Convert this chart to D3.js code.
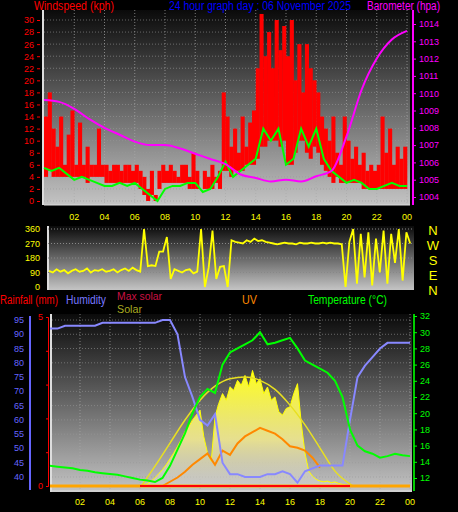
<!DOCTYPE html>
<html><head><meta charset="utf-8">
<script src="https://cdn.jsdelivr.net/npm/d3@7"></script>
<style>body{margin:0;background:#000}svg{display:block}text{font-family:"Liberation Sans",Arial,sans-serif}</style>
</head><body><svg id="c" width="458" height="512"></svg>
<script>
// ---------- DATA ----------
const hourTicks = [2,4,6,8,10,12,14,16,18,20,22,24];
const hourLabels = ["02","04","06","08","10","12","14","16","18","20","22","00"];
const windTicks = [0,2,4,6,8,10,12,14,16,18,20,22,24,26,28,30];
const baroTicks = [1004,1005,1006,1007,1008,1009,1010,1011,1012,1013,1014];
const dirTicks = [0,90,180,270,360];
const dirLetters = ["N","W","S","E","N"];
const humTicks = [40,45,50,55,60,65,70,75,80,85,90,95];
const tempTicks = [12,14,16,18,20,22,24,26,28,30,32];
// wind gust every 15 min
const windGust = [14,18,12,9,14,6,11,15, 6,13,6,9,6,6,12,6, 6,5,6,6,5,6,6,5, 6,5,4,2,5,1,5,6,
  5,6,5,4,6,6,4,8, 5,0,5,4,6,4,5,18, 14,9,12,8,14,9,13,15, 22,31,24,28,22,30,25,29,
  24,30,20,26,18,26,22,20, 18,14,12,10,14,8,6,14, 10,7,9,6,8,5,6,5, 6,14,8,12,6,9,7,9];
// wind lull (bottom of red bars) every 15 min
const windLull = [4,5,4,4,4,4,4,4, 4,4,4,3,4,4,4,4, 3,3,3,3,3,3,3,3, 3,2,1,0,1,0,2,3,
  3,3,3,3,3,3,2,2, 2,0,2,2,2,3,2,5, 5,4,5,5,5,6,6,6, 7,9,9,10,10,10,9,10,
  6,6,8,10,10,8,7,9, 8,6,5,4,3,4,3,3, 3,3,3,3,2,2,2,2, 2,2,2,2,2,2,2,2];
// average wind every 30 min
const windAvg = [5.5,5,5.5,4.5, 3.5,4,3.5,3, 2.5,2.5,3,2.5, 3,2,1,0, 2,2.5,2.5,3, 3,1.5,2,4,
  6.5,4,5,6, 7,12,10,12, 6,7,12,9, 12,7,5,4, 3,3.5,3,2, 2,2.5,3,2.5, 2.5];
// barometer hourly
const baro = [1009.6,1009.5,1009.1,1008.5,1008,1007.6,1007.2,1007,1007,1006.8,1006.5,1006.2,1005.9,
  1005.3,1005.1,1004.9,1005,1004.9,1005.2,1005.5,1007.5,1010.2,1012,1013.1,1013.6];
// wind direction every 15 min
const windDir = [100,90,110,95,105,85,100,110, 95,100,115,90,105,100,110,95, 100,110,90,105,115,100,120,105,
  95,360,130,135,130,220,220,310, 50,110,100,90,105,110,85,95, 360,0,120,350,50,125,130,0,
  290,280,275,270,290,280,300,285, 290,280,275,270,265,270,275,270, 270,265,275,270,270,275,270,270,
  275,270,275,270,270,265,0,280, 360,20,330,60,340,10,300,90, 350,20,330,150,360,40,340,270];
// humidity every 30 min
const humidity = [92,92,93,93,93,93,93,94,94,94,94,94,94,94,94,95,95,90,75,68,60,58,62,45,
  41,41,40,40,40,41,41,42,41,38,42,43,44,44,44,44,60,75,79,82,85,87,87,87,87];
// temperature every 30 min
const temperature = [13.5,13.4,13.3,13.2,13,12.9,12.7,12.6,12.5,12.4,12.2,12,11.8,11.7,11.5,12,13.5,15.5,17.5,20,22,23,22.5,26,
  27.5,28,28.5,29,30,28.5,28.7,29,29.3,28,26.5,26,25.5,25,24,22,18,16,15.3,15,14.5,14.7,15,14.8,14.7];
// solar every 15 min from 06:00 to 20:00
const solarHours = d3.range(6,20.01,0.25);
const solar = [0,5,15,30,50,75,100,130,165,200,240,280,330,360,400,430,460,300,200,150,420,500,560,520,
  600,580,640,610,670,600,700,620,650,560,600,520,540,450,430,470,480,560,620,380,200,90,60,40,
  30,25,30,20,25,15,10,5,0];
// max solar
const maxSolarHours = [6.1,7,8,9,10,11,12,13,14,15,16,17,18,19,20.2];
const maxSolar = [0,120,260,400,520,605,650,660,640,585,490,370,230,90,0];
// UV every 30 min from 07:30 to 18:00
const uvHours = d3.range(7.5,18.01,0.5);
const uv = [0,0.3,0.6,1,1.5,1.9,2.3,1.5,2.5,2.2,3,3.5,3.8,4.1,3.9,3.7,3.3,2.8,2.7,2.5,2,1.3,0];

// ---------- DRAW ----------
const svg = d3.select("#c");
const defs = svg.append("defs");
function grad(id, stops){const g=defs.append("linearGradient").attr("id",id).attr("x1",0).attr("y1",0).attr("x2",0).attr("y2",1);
  stops.forEach(s=>g.append("stop").attr("offset",s[0]).attr("stop-color",s[1]).attr("stop-opacity",s[2]==null?1:s[2]));}
grad("bg",[[0,"#0a0a0a"],[1,"#c4c4c4"]]);
grad("sol",[[0,"#ffff20"],[0.6,"#f0e890",0.9],[1,"#d8d8d8",0.4]]);
function label(x,y,txt,col,len,size){return svg.append("text").attr("x",x).attr("y",y).attr("fill",col).attr("font-size",size||12)
  .attr("textLength",len).attr("lengthAdjust","spacingAndGlyphs").text(txt);}

const x1 = d3.scaleLinear().domain([0,24]).range([44,407]);
const x3 = d3.scaleLinear().domain([0,24]).range([50,410]);

// --- panel 1
const yW = d3.scaleLinear().domain([0,30]).range([201,20]);
const yB = d3.scaleLinear().domain([1004,1014]).range([197,24]);
svg.append("rect").attr("x",44).attr("y",10).attr("width",366).attr("height",195).attr("fill","url(#bg)");
svg.append("line").attr("x1",43).attr("x2",43).attr("y1",10).attr("y2",205).attr("stroke","#ddd").attr("stroke-width",2);
svg.append("line").attr("x1",44).attr("x2",410).attr("y1",205).attr("y2",205).attr("stroke","#ddd").attr("stroke-width",1);
const g1=svg.append("g");
windTicks.forEach(t=>g1.append("line").attr("x1",44).attr("x2",410).attr("y1",yW(t)).attr("y2",yW(t)).attr("stroke","#999").attr("stroke-dasharray","1,2").attr("opacity",0.6));
hourTicks.forEach(t=>g1.append("line").attr("x1",x1(t)).attr("x2",x1(t)).attr("y1",10).attr("y2",205).attr("stroke","#aaa").attr("stroke-dasharray","1,2").attr("opacity",0.7));
const bw=(x1(24)-x1(0))/96;
g1.selectAll(".g").data(windGust).join("rect").attr("x",(d,i)=>x1(i*0.25)).attr("width",bw+0.3)
  .attr("y",d=>yW(d)).attr("height",(d,i)=>Math.max(0,yW(Math.min(d,windLull[i]))-yW(d)))
  .attr("fill","#ff0000");
g1.append("path").datum(windAvg).attr("d",d3.line().x((d,i)=>x1(i*0.5)).y(d=>yW(d))).attr("fill","none").attr("stroke","#00ff00").attr("stroke-width",2);
g1.append("path").datum(baro).attr("d",d3.line().x((d,i)=>x1(i)).y(d=>yB(d)).curve(d3.curveMonotoneX)).attr("fill","none").attr("stroke","#ff00ff").attr("stroke-width",2);
const aW=svg.append("g").attr("transform","translate(40,0)").call(d3.axisLeft(yW).tickValues(windTicks).tickSize(3).tickFormat(d3.format("d")));
aW.selectAll("text").attr("fill","#ff0000").attr("font-size",9);aW.selectAll("line,path").attr("stroke","#ff0000");aW.select(".domain").remove();
svg.append("line").attr("x1",413).attr("x2",413).attr("y1",10).attr("y2",205).attr("stroke","#ff00ff").attr("stroke-width",2);
const aB=svg.append("g").attr("transform","translate(413,0)").call(d3.axisRight(yB).tickValues(baroTicks).tickSize(3).tickFormat(d3.format("d")));
aB.selectAll("text").attr("fill","#ff00ff").attr("font-size",9);aB.selectAll("line").attr("stroke","#ff00ff");aB.select(".domain").remove();
label(34,10,"Windspeed (kph)","#ff0000",80);
label(169,10,"24 hour graph day : 06 November 2025","#0000ff",182);
label(367,10,"Barometer (hpa)","#ff00ff",73);
hourTicks.forEach((t,i)=>svg.append("text").attr("x",x1(t)).attr("y",220).attr("text-anchor","middle").attr("fill","#ffff00").attr("font-size",9).text(hourLabels[i]));

// --- panel 2 direction
const yD = d3.scaleLinear().domain([0,360]).range([287,229]);
svg.append("rect").attr("x",48).attr("y",226).attr("width",366).attr("height",64).attr("fill","url(#bg)");
svg.append("line").attr("x1",48).attr("x2",48).attr("y1",226).attr("y2",290).attr("stroke","#ddd").attr("stroke-width",2);
[90,180,270,360].forEach(t=>svg.append("line").attr("x1",48).attr("x2",414).attr("y1",yD(t)).attr("y2",yD(t)).attr("stroke","#888").attr("stroke-dasharray","1,2"));
const x2 = d3.scaleLinear().domain([0,24]).range([49,414]);
svg.append("path").datum(windDir).attr("d",d3.line().x((d,i)=>x2(i*0.25)).y(d=>yD(d))).attr("fill","none").attr("stroke","#ffff00").attr("stroke-width",1.8);
dirTicks.forEach(t=>svg.append("text").attr("x",40).attr("y",yD(t)+3).attr("text-anchor","end").attr("fill","#ffff00").attr("font-size",9).text(t));
dirLetters.forEach((l,i)=>svg.append("text").attr("x",433).attr("y",235+i*15).attr("text-anchor","middle").attr("fill","#ffff00").attr("font-size",13).text(l));

// --- panel 3
label(0,304,"Rainfall (mm)","#ff0000",58);
label(66,304,"Humidity","#7777ff",40);
label(117,300,"Max solar","#cc1144",45,11);
label(117,313,"Solar","#aaaa22",25,11);
label(242,304,"UV","#ff8800",15);
label(308,304,"Temperature (°C)","#00ff00",79);

const yH = d3.scaleLinear().domain([40,95]).range([477,320]);
const yR = d3.scaleLinear().domain([0,5]).range([486,317]);
const yT = d3.scaleLinear().domain([12,32]).range([478,316]);
const yS = d3.scaleLinear().domain([0,1030]).range([486,316]);
const yU = d3.scaleLinear().domain([0,12]).range([486,316]);
svg.append("rect").attr("x",50).attr("y",314).attr("width",362).attr("height",178).attr("fill","url(#bg)");
svg.append("line").attr("x1",51).attr("x2",51).attr("y1",314).attr("y2",492).attr("stroke","#ddd").attr("stroke-width",2);
svg.append("line").attr("x1",50).attr("x2",412).attr("y1",491).attr("y2",491).attr("stroke","#ddd").attr("stroke-width",1);
humTicks.forEach(t=>svg.append("line").attr("x1",52).attr("x2",412).attr("y1",yH(t)).attr("y2",yH(t)).attr("stroke","#999").attr("stroke-dasharray","1,2").attr("opacity",0.6));
hourTicks.forEach(t=>svg.append("line").attr("x1",x3(t)).attr("x2",x3(t)).attr("y1",314).attr("y2",491).attr("stroke","#aaa").attr("stroke-dasharray","1,2").attr("opacity",0.7));
svg.append("path").datum(solar).attr("d",d3.area().x((d,i)=>x3(solarHours[i])).y0(486).y1(d=>yS(d))).attr("fill","url(#sol)");
svg.append("path").datum(solar).attr("d",d3.line().x((d,i)=>x3(solarHours[i])).y(d=>yS(d))).attr("fill","none").attr("stroke","#ffff00").attr("stroke-width",1);
svg.append("path").datum(maxSolar).attr("d",d3.line().x((d,i)=>x3(maxSolarHours[i])).y(d=>yS(d)).curve(d3.curveMonotoneX)).attr("fill","none").attr("stroke","#e8e020").attr("stroke-width",1.5);
svg.append("path").datum(uv).attr("d",d3.line().x((d,i)=>x3(uvHours[i])).y(d=>yU(d))).attr("fill","none").attr("stroke","#ff8800").attr("stroke-width",2);
svg.append("path").datum(humidity).attr("d",d3.line().x((d,i)=>x3(i*0.5)).y(d=>yH(d))).attr("fill","none").attr("stroke","#8888ff").attr("stroke-width",2);
svg.append("path").datum(temperature).attr("d",d3.line().x((d,i)=>x3(i*0.5)).y(d=>yT(d))).attr("fill","none").attr("stroke","#00ff00").attr("stroke-width",2);
svg.append("line").attr("x1",x3(0)).attr("x2",x3(24)).attr("y1",yR(0)).attr("y2",yR(0)).attr("stroke","#ffa500").attr("stroke-width",3);
svg.append("line").attr("x1",x3(6)).attr("x2",x3(20)).attr("y1",yR(0)).attr("y2",yR(0)).attr("stroke","#ff0000").attr("stroke-width",2);
// axes
svg.append("line").attr("x1",30).attr("x2",30).attr("y1",316).attr("y2",490).attr("stroke","#6666ff").attr("stroke-width",2);
humTicks.forEach(t=>svg.append("text").attr("x",24).attr("y",yH(t)+3).attr("text-anchor","end").attr("fill","#6666ff").attr("font-size",9).text(t));
const aR=svg.append("g").attr("transform","translate(48,0)").call(d3.axisLeft(yR).tickValues([0,1,2,3,4,5]).tickSize(2).tickFormat(d=>d===0||d===5?d:""));
aR.selectAll("text").attr("fill","#ff0000").attr("font-size",9);aR.selectAll("line,path").attr("stroke","#ff0000");
svg.append("line").attr("x1",414).attr("x2",414).attr("y1",314).attr("y2",491).attr("stroke","#00cc00").attr("stroke-width",2);
const aT=svg.append("g").attr("transform","translate(414,0)").call(d3.axisRight(yT).tickValues(tempTicks).tickSize(3).tickFormat(d3.format("d")));
aT.selectAll("text").attr("fill","#00ff00").attr("font-size",9);aT.selectAll("line").attr("stroke","#00ff00");aT.select(".domain").remove();
hourTicks.forEach((t,i)=>svg.append("text").attr("x",x3(t)).attr("y",505).attr("text-anchor","middle").attr("fill","#ffff00").attr("font-size",9).text(hourLabels[i]));
</script></body></html>
